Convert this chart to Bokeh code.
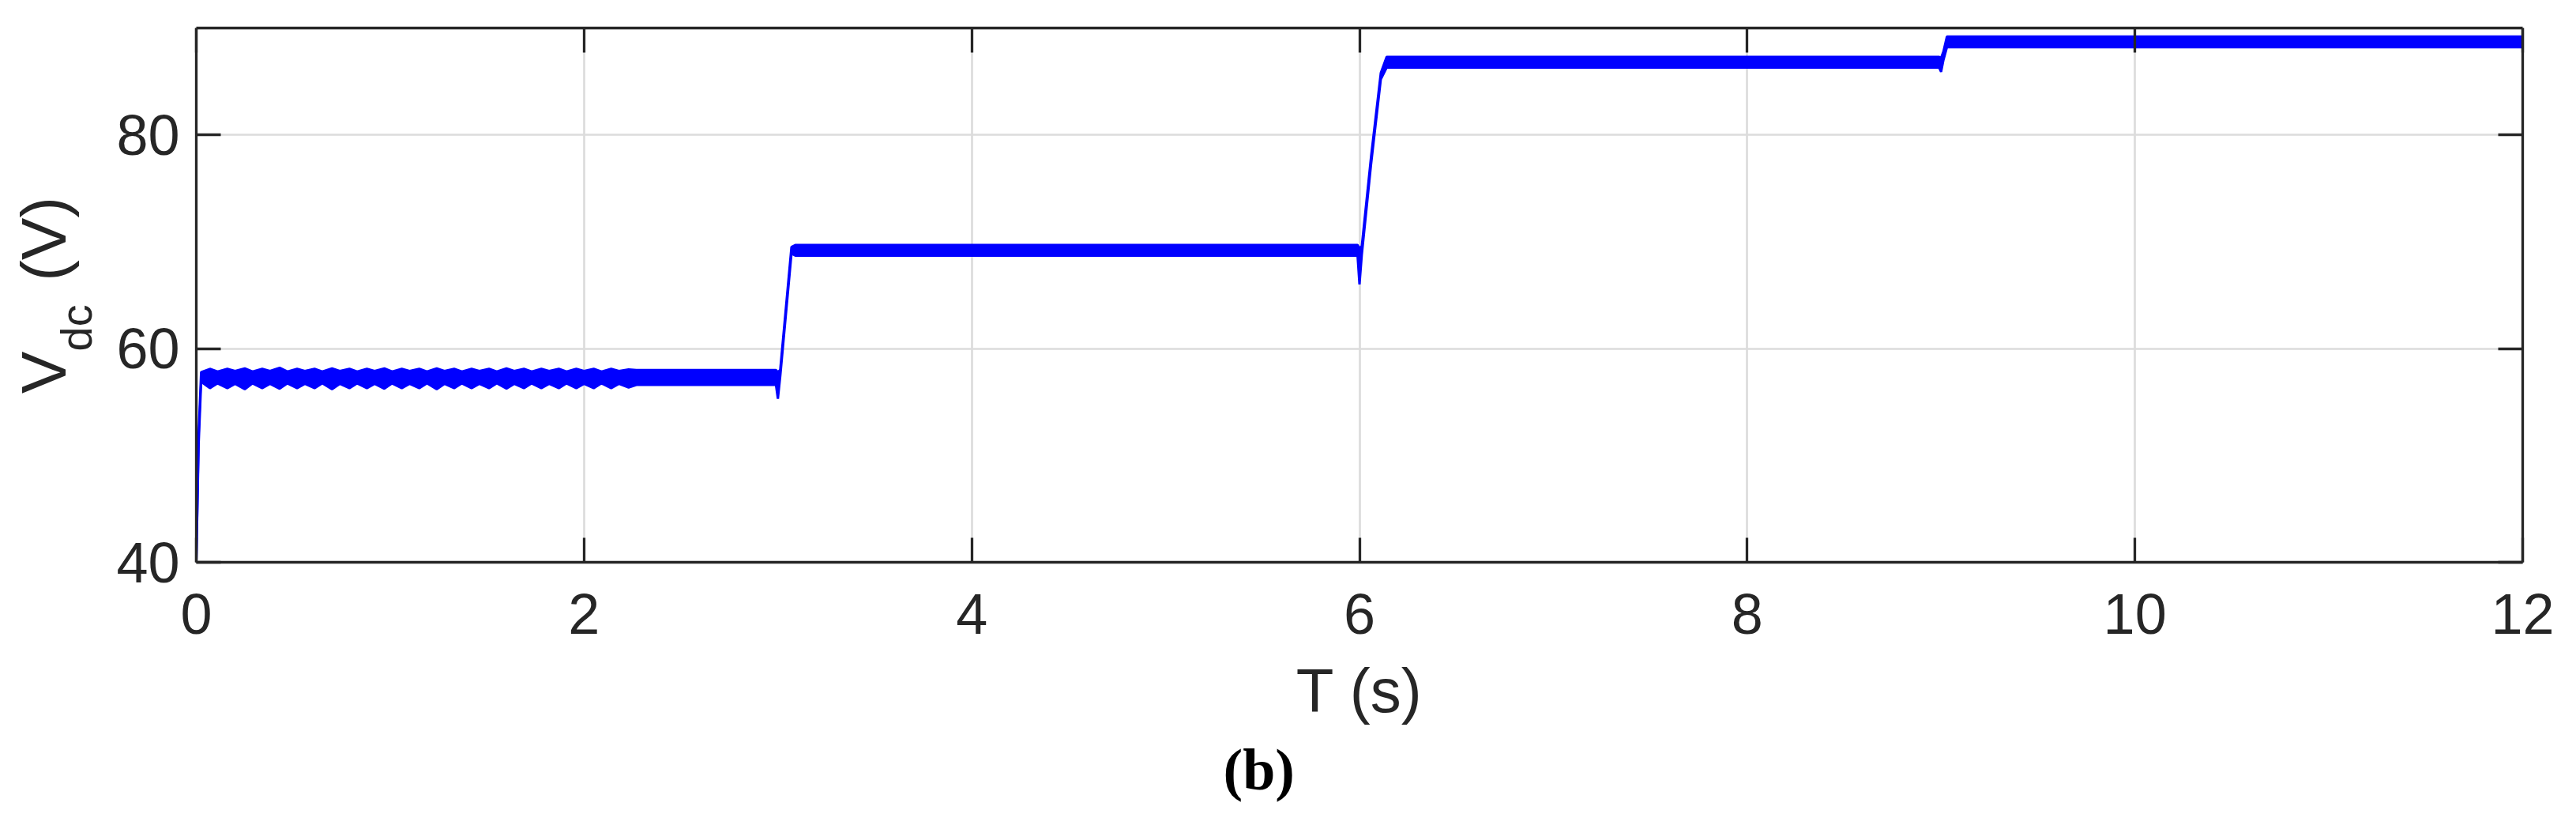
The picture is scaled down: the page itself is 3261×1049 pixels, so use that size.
from bokeh.plotting import figure
from bokeh.models import (Range1d, LinearAxis, FixedTicker, Title, ColumnDataSource,
                          CustomJSTickFormatter)
from bokeh.embed import file_html
from bokeh.resources import INLINE

# ---------------- data ----------------
x_ticks = [0, 2, 4, 6, 8, 10, 12]
y_ticks = [40, 60, 80]

# time points of the Vdc trace (s)
t_env = [0.0, 0.012, 0.025,
         0.07, 0.11, 0.16, 0.20, 0.25, 0.29, 0.34, 0.38, 0.43, 0.47, 0.52, 0.56, 0.61,
         0.65, 0.70, 0.74, 0.79, 0.83, 0.88, 0.92, 0.97, 1.01, 1.06, 1.10, 1.15, 1.19,
         1.24, 1.28, 1.33, 1.37, 1.42, 1.46, 1.51, 1.55, 1.60, 1.64, 1.69, 1.73, 1.78,
         1.82, 1.87, 1.91, 1.96, 2.00, 2.05, 2.09, 2.14, 2.18, 2.23,
         2.27, 2.99, 3.00, 3.012, 3.07, 3.09,
         5.99, 6.00, 6.012, 6.06, 6.11, 6.14,
         8.99, 9.00, 9.012, 9.03, 12.0]

# upper envelope of the ripple band (V)
v_hi = [40.0, 52.0, 57.8,
        58.1, 57.85, 58.1, 57.9, 58.15, 57.85, 58.1, 57.9, 58.2, 57.85, 58.1, 57.9, 58.1,
        57.85, 58.15, 57.9, 58.1, 57.85, 58.1, 57.9, 58.15, 57.85, 58.1, 57.9, 58.1, 57.85,
        58.15, 57.9, 58.1, 57.85, 58.1, 57.9, 58.1, 57.85, 58.15, 57.9, 58.1, 57.85, 58.1,
        57.9, 58.1, 57.85, 58.1, 57.9, 58.1, 57.85, 58.1, 57.9, 58.05,
        58.0, 58.0, 57.8, 58.0, 69.5, 69.7,
        69.7, 69.4, 69.6, 78.0, 85.8, 87.3,
        87.3, 87.2, 87.8, 89.2, 89.2]

# lower envelope of the ripple band (V)
v_lo = [40.0, 51.0, 56.9,
        56.3, 56.75, 56.3, 56.7, 56.2, 56.75, 56.3, 56.7, 56.25, 56.75, 56.3, 56.7, 56.3,
        56.75, 56.2, 56.7, 56.3, 56.75, 56.3, 56.7, 56.25, 56.75, 56.3, 56.7, 56.3, 56.75,
        56.2, 56.7, 56.3, 56.75, 56.3, 56.7, 56.3, 56.75, 56.25, 56.7, 56.3, 56.75, 56.3,
        56.7, 56.3, 56.75, 56.3, 56.7, 56.3, 56.75, 56.3, 56.7, 56.35,
        56.6, 56.6, 55.3, 57.4, 68.9, 68.7,
        68.7, 66.0, 68.8, 77.3, 85.2, 86.3,
        86.3, 85.9, 87.0, 88.2, 88.2]

x_label = "T (s)"
y_label_main = "V\u00a0\u00a0\u00a0\u00a0(V)"
y_label_sub = "dc"
caption = "(b)"

# ---------------- figure ----------------
W, H = 3261, 1049
DARK = "#262626"
FONT = "Liberation Sans"

p = figure(width=W, height=H, output_backend="svg", toolbar_location=None,
           x_range=Range1d(0, 12), y_range=Range1d(40, 90),
           min_border_left=248, min_border_right=68, min_border_top=35,
           min_border_bottom=338, background_fill_color="white",
           border_fill_color="white", outline_line_color=None)
p.title.visible = False

src = ColumnDataSource(dict(t=t_env, hi=v_hi, lo=v_lo))
p.varea(x="t", y1="lo", y2="hi", source=src, fill_color="#0000ff")
p.line(x="t", y="hi", source=src, line_color="#0000ff", line_width=3)
p.line(x="t", y="lo", source=src, line_color="#0000ff", line_width=3)

def style_axis(ax, standoff, show_labels=True):
    ax.axis_line_color = DARK
    ax.axis_line_width = 3.3
    ax.major_tick_line_color = DARK
    ax.major_tick_line_width = 3.3
    ax.major_tick_in = 31
    ax.major_tick_out = 0
    ax.minor_tick_line_color = None
    ax.major_label_text_font = FONT
    ax.major_label_text_font_size = "72px"
    ax.major_label_text_color = DARK
    ax.major_label_standoff = standoff
    if not show_labels:
        ax.formatter = CustomJSTickFormatter(code="return ''")
        ax.major_label_standoff = 0
        ax.major_label_text_font_size = "1px"

xa = p.xaxis[0]
xa.ticker = FixedTicker(ticks=x_ticks)
style_axis(xa, 40)
xa.axis_label = x_label
xa.axis_label_text_font = FONT
xa.axis_label_text_font_size = "78px"
xa.axis_label_text_font_style = "normal"
xa.axis_label_text_color = DARK
xa.axis_label_standoff = 25

ya = p.yaxis[0]
ya.ticker = FixedTicker(ticks=y_ticks)
style_axis(ya, 21)
ya.axis_label = y_label_main
ya.axis_label_text_font = FONT
ya.axis_label_text_font_size = "80px"
ya.axis_label_text_font_style = "normal"
ya.axis_label_text_color = DARK
ya.axis_label_standoff = 44

top = LinearAxis(ticker=FixedTicker(ticks=x_ticks))
style_axis(top, 0, show_labels=False)
p.add_layout(top, "above")
right = LinearAxis(ticker=FixedTicker(ticks=y_ticks))
style_axis(right, 0, show_labels=False)
p.add_layout(right, "right")

p.xgrid.ticker = FixedTicker(ticks=x_ticks)
p.ygrid.ticker = FixedTicker(ticks=y_ticks)
for g in (p.xgrid[0], p.ygrid[0]):
    g.grid_line_color = "#dcdcdc"
    g.grid_line_width = 2.7

# subscript "dc" of the y label (pulled inward with a negative standoff)
sub = Title(text=y_label_sub, align="left", vertical_align="bottom", offset=267,
            standoff=-238, text_font=FONT, text_font_size="56px",
            text_font_style="normal", text_color=DARK)
p.add_layout(sub, "left")

# caption below the chart
cap = Title(text=caption, align="left", vertical_align="top", offset=1300,
            standoff=24, text_font="Liberation Serif", text_font_size="74px",
            text_font_style="bold", text_color="black")
p.add_layout(cap, "below")

open("out.html", "w").write(file_html(p, INLINE))
